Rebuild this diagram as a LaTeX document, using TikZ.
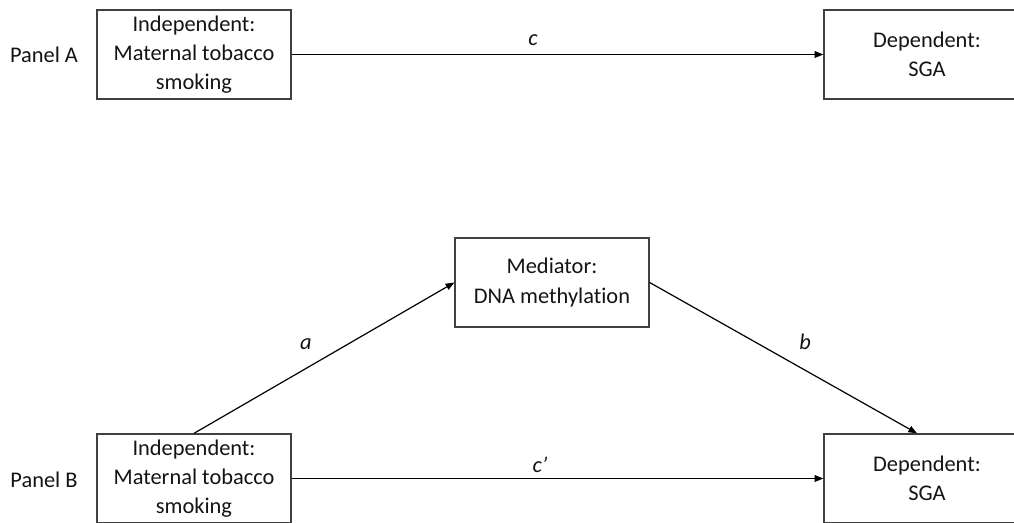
\documentclass[tikz,border=0pt]{standalone}
\usepackage{fontspec}
\setmainfont{Carlito}[Ligatures={NoCommon}]
\usetikzlibrary{arrows.meta}

\begin{document}
\begin{tikzpicture}[x=0.75pt,y=-0.75pt,
    font=\fontsize{16.8}{21.8}\selectfont,
    varbox/.style={draw=boxgray,line width=1pt,align=center,inner sep=0pt,
      text=textgray,minimum width=145.5pt,minimum height=66.75pt},
    effect/.style={-{Triangle[length=6.5pt,width=5pt]},line width=0.9pt},
    pathlabel/.style={font=\fontsize{16.8}{21.8}\selectfont\itshape,text=textgray}]

  % Define colors
  \definecolor{boxgray}{RGB}{64,64,64}
  \definecolor{textgray}{RGB}{20,20,20}

  % page frame (boxes on the right and bottom run past it)
  \clip (0,0) rectangle (1014,522);

  % Panel A: total effect
  \node[text=textgray] (panelA) at (44,55) {Panel A};
  \node[varbox] (indA) at (194,54.5) {Independent:\\Maternal tobacco\\smoking};
  \node[varbox,minimum width=154.5pt] (depA) at (927,54.5) {Dependent:\\SGA};
  \draw[effect] (indA) -- (depA);
  \node[pathlabel] (labc) at (533,40) {c};

  % Panel B: mediated effect
  \node[text=textgray] (panelB) at (44,480) {Panel B};
  \node[varbox] (med) at (552,282.5) {Mediator:\\DNA methylation};
  \node[varbox] (indB) at (194,478.5) {Independent:\\Maternal tobacco\\smoking};
  \node[varbox,minimum width=154.5pt] (depB) at (927,478.5) {Dependent:\\SGA};

  % paths a, b and direct path c'
  \draw[effect] (indB.north) -- (med.west);
  \draw[effect] (med.east) -- ([xshift=-7.5pt]depB.north);
  \draw[effect] (indB) -- (depB);
  \node[pathlabel] (laba) at (306,344) {a};
  \node[pathlabel] (labb) at (805,342) {b};
  \node[pathlabel] (labcp) at (540,465) {c’};

\end{tikzpicture}
\end{document}
